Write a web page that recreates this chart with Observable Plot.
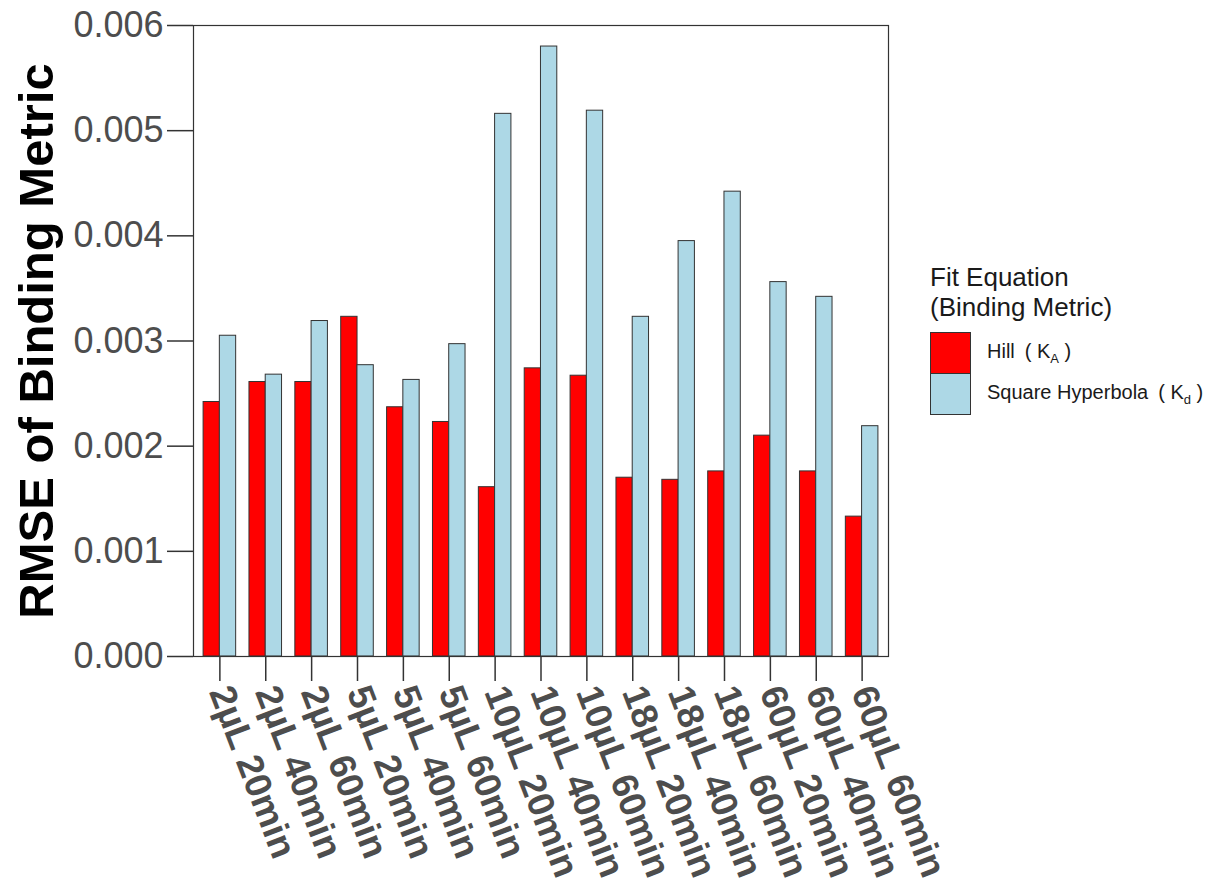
<!DOCTYPE html>
<html>
<head>
<meta charset="utf-8">
<script src="https://cdn.jsdelivr.net/npm/d3@7"></script>
<script src="https://cdn.jsdelivr.net/npm/@observablehq/plot@0.6"></script>
<style>
  html, body { margin: 0; padding: 0; background: #fff; }
  #wrap { position: relative; width: 1225px; height: 884px; font-family: "Liberation Sans", Arial, sans-serif; }
  #chart svg { font-family: "Liberation Sans", Arial, sans-serif; }
  #legend { position: absolute; left: 930px; top: 262px; color: #1a1a1a; }
  #legend .title { font-size: 26px; line-height: 30px; }
  #legend .row { display: flex; align-items: center; height: 41px; }
  #legend .sw { width: 39px; height: 40px; border: 1px solid #333; box-sizing: content-box; margin-right: 16px; }
  #legend .lab { font-size: 20px; color: #1a1a1a; }
  #legend sub { font-size: 13px; }
</style>
</head>
<body>
<div id="wrap">
  <div id="chart"></div>
  <div id="legend"></div>
</div>
<script>
const categories = ["2µL 20min","2µL 40min","2µL 60min","5µL 20min","5µL 40min","5µL 60min","10µL 20min","10µL 40min","10µL 60min","18µL 20min","18µL 40min","18µL 60min","60µL 20min","60µL 40min","60µL 60min"];
const hill = [0.00242,0.00261,0.00261,0.00323,0.00237,0.00223,0.00161,0.00274,0.00267,0.00170,0.00168,0.00176,0.00210,0.00176,0.00133];
const squareHyperbola = [0.00305,0.00268,0.00319,0.00277,0.00263,0.00297,0.00516,0.00580,0.00519,0.00323,0.00395,0.00442,0.00356,0.00342,0.00219];
const seriesNames = ["Hill", "Square Hyperbola"];
const seriesColors = ["#ff0000", "#add8e6"];
const yTicks = [0, 0.001, 0.002, 0.003, 0.004, 0.005, 0.006];
const yTitle = "RMSE of Binding Metric";
const legendTitle = ["Fit Equation", "(Binding Metric)"];
const legendLabels = ["Hill\u2002( K<sub>A</sub> )", "Square Hyperbola\u2002( K<sub>d</sub> )"];

const hillData = categories.map((c, i) => ({category: c, value: hill[i], series: seriesNames[0]}));
const sqData = categories.map((c, i) => ({category: c, value: squareHyperbola[i], series: seriesNames[1]}));

const plot = Plot.plot({
  width: 1225,
  height: 884,
  marginLeft: 193,
  marginRight: 337,
  marginTop: 25,
  marginBottom: 228,
  x: {
    domain: categories,
    paddingInner: 0.29,
    paddingOuter: 0.22,
    round: false
  },
  y: {
    domain: [0, 0.006]
  },
  color: {domain: seriesNames, range: seriesColors},
  marks: [
    Plot.barY(hillData, {x: "category", y: "value", fill: "series", stroke: "#333", strokeWidth: 1, insetRight: 16.25}),
    Plot.barY(sqData, {x: "category", y: "value", fill: "series", stroke: "#333", strokeWidth: 1, insetLeft: 16.25}),
    Plot.frame({stroke: "#333", strokeWidth: 1.2}),
    Plot.axisY({
      ticks: yTicks,
      tickFormat: d3.format(".3f"),
      tickSize: 26,
      tickPadding: 4,
      fontSize: 36,
      color: "#4d4d4d",
      stroke: "#333",
      strokeWidth: 1.5,
      label: null
    }),
    Plot.axisX({
      tickSize: 25,
      tickPadding: 6,
      tickRotate: 69,
      fontSize: 37,
      fontWeight: "bold",
      color: "#4d4d4d",
      stroke: "#333",
      strokeWidth: 1.5,
      label: null
    }),
    Plot.text([yTitle], {
      text: d => d,
      frameAnchor: "left",
      textAnchor: "middle",
      rotate: -90,
      dx: -156,
      fontSize: 49,
      fontWeight: "bold",
      fill: "#000"
    })
  ]
});
document.getElementById("chart").appendChild(plot);

const legend = document.getElementById("legend");
legend.innerHTML = `<div class="title">${legendTitle.join("<br>")}</div>` +
  seriesNames.map((s, i) => `<div class="row"><div class="sw" style="background:${seriesColors[i]}"></div><div class="lab">${legendLabels[i]}</div></div>`).join("");
legend.querySelector(".row").style.marginTop = "10px";
</script>
</body>
</html>
